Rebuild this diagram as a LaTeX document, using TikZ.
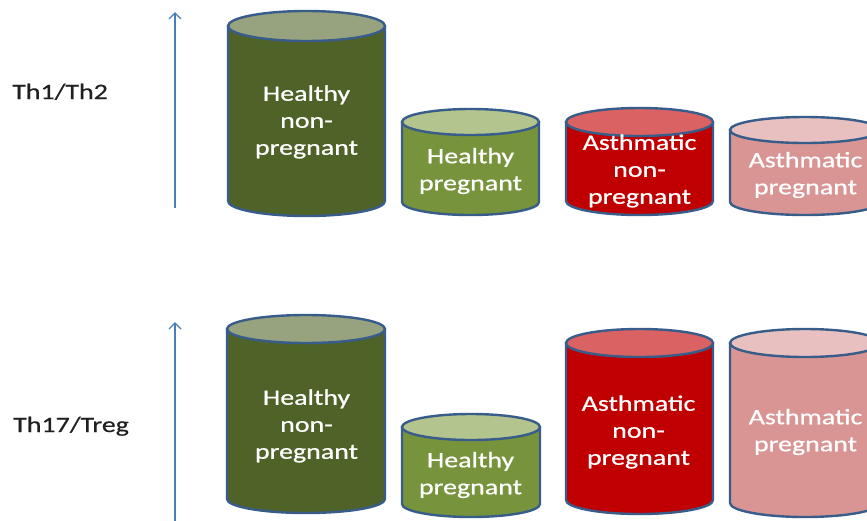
\documentclass[tikz,border=0pt]{standalone}
\usepackage{fontspec}
\setmainfont{Carlito}
\newfontfamily\calfont[FakeStretch=1.27,FakeBold=0.7]{Carlito}
\newfontfamily\labfont[FakeStretch=1.27,FakeBold=0.4]{Carlito}
\usetikzlibrary{arrows.meta}
\definecolor{outl}{HTML}{385D8A}
\definecolor{axisblue}{HTML}{4A7EBB}
\definecolor{dgbody}{HTML}{4F6228}
\definecolor{dgtop}{HTML}{97A27E}
\definecolor{lgbody}{HTML}{77933C}
\definecolor{lgtop}{HTML}{B4C48E}
\definecolor{rbody}{HTML}{C00000}
\definecolor{rtop}{HTML}{DA6262}
\definecolor{pbody}{HTML}{D99594}
\definecolor{ptop}{HTML}{E9C0C0}
\definecolor{labtext}{HTML}{202020}
\tikzset{
  cylline/.style={draw=outl, line width=2.4pt},
  cyltext/.style={font=\calfont\fontsize{22}{27}\selectfont, text=white, align=center, inner sep=0pt},
  rowlabel/.style={font=\labfont\fontsize{22}{27}\selectfont, text=labtext, inner sep=0pt, anchor=base west},
  axisarrow/.style={draw=axisblue, line width=1.4pt, -{Straight Barb[length=6pt,width=12pt]}}
}
% #1 cx, #2 rx, #3 top centre y, #4 bottom centre y, #5 ry, #6 body colour, #7 top colour
\newcommand\drawcyl[7]{%
  \filldraw[cylline, fill=#6] ({#1-#2},#3) -- ({#1-#2},#4)
    arc[start angle=180, end angle=0, x radius=#2, y radius=#5] -- ({#1+#2},#3) -- cycle;
  \filldraw[cylline, fill=#7] (#1,#3) ellipse[x radius=#2, y radius=#5];
}
\begin{document}
\begin{tikzpicture}[x=1pt, y=-1pt]
\useasboundingbox (0,0) rectangle (867,520);
\fill[white] (0,0) rectangle (867,520);

% row labels
\node[rowlabel] (lab1) at (12,99) {Th1/Th2};
\node[rowlabel] (lab2) at (13,432) {Th17/Treg};

% axes
\coordinate (a1s) at (175,208);
\coordinate (a1e) at (175,12);
\coordinate (a2s) at (175,521);
\coordinate (a2e) at (175,322);
\draw[axisarrow] (a1s) -- (a1e);
\draw[axisarrow] (a2s) -- (a2e);

% top row
\drawcyl{306.5}{78.5}{26}{201}{15}{dgbody}{dgtop}
\drawcyl{470.5}{68.5}{122}{202}{13}{lgbody}{lgtop}
\drawcyl{639.5}{73.5}{122}{201}{14}{rbody}{rtop}
\drawcyl{805}{75}{130}{202}{13}{pbody}{ptop}
\node[cyltext] (t1) at (306.5,122) {Healthy\\non-\\pregnant};
\node[cyltext] (t2) at (470.5,171) {Healthy\\pregnant};
\node[cyltext] (t3) at (639.5,171) {Asthmatic\\non-\\pregnant};
\node[cyltext] (t4) at (805.5,175) {Asthmatic\\pregnant};

% bottom row
\drawcyl{306}{79}{329}{499}{14}{dgbody}{dgtop}
\drawcyl{471}{69}{427}{504}{13}{lgbody}{lgtop}
\drawcyl{639.5}{73.5}{343}{500}{14}{rbody}{rtop}
\drawcyl{805}{75}{343}{503}{14}{pbody}{ptop}
\node[cyltext] (b1) at (306.5,426) {Healthy\\non-\\pregnant};
\node[cyltext] (b2) at (470.5,475) {Healthy\\pregnant};
\node[cyltext] (b3) at (638.5,432) {Asthmatic\\non-\\pregnant};
\node[cyltext] (b4) at (805.5,432) {Asthmatic\\pregnant};
\end{tikzpicture}
\end{document}
